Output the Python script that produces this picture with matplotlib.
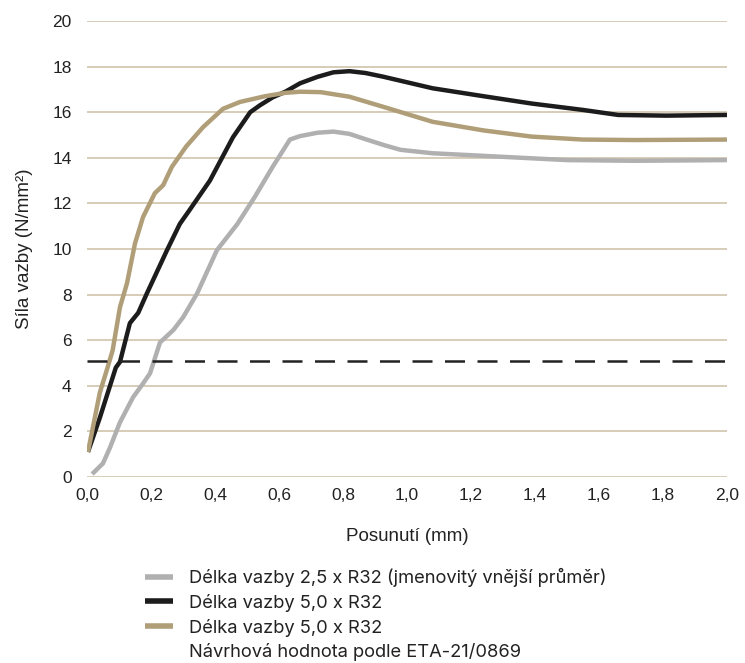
import matplotlib.pyplot as plt
from matplotlib.lines import Line2D
from matplotlib.ticker import FuncFormatter

# posunutí (mm) a síla vazby (N/mm2)
x_short = [0.016, 0.05, 0.072, 0.103, 0.144, 0.175, 0.197, 0.228, 0.27, 0.30, 0.344,
           0.406, 0.47, 0.525, 0.58, 0.634, 0.665, 0.72, 0.77, 0.82, 0.874, 0.93,
           0.98, 1.08, 1.29, 1.5, 1.71, 2.0]
y_short = [0.13, 0.6, 1.3, 2.4, 3.5, 4.1, 4.55, 5.9, 6.45, 7.0, 8.05,
           9.95, 11.1, 12.3, 13.6, 14.8, 14.95, 15.1, 15.15, 15.05, 14.8, 14.55,
           14.35, 14.2, 14.05, 13.9, 13.87, 13.9]

x_long = [0.003, 0.04, 0.09, 0.103, 0.134, 0.16, 0.187, 0.25, 0.29, 0.32, 0.384,
          0.456, 0.51, 0.54, 0.58, 0.62, 0.666, 0.72, 0.77, 0.82, 0.87, 0.925,
          1.08, 1.24, 1.39, 1.55, 1.66, 1.81, 2.0]
y_long = [1.1, 2.6, 4.8, 5.05, 6.75, 7.2, 8.05, 9.95, 11.1, 11.7, 13.0,
          14.9, 16.0, 16.3, 16.65, 16.9, 17.27, 17.55, 17.75, 17.8, 17.72, 17.56,
          17.05, 16.7, 16.38, 16.1, 15.88, 15.85, 15.88]

x_long2 = [0.003, 0.04, 0.062, 0.08, 0.103, 0.125, 0.15, 0.175, 0.212, 0.238, 0.265,
           0.31, 0.363, 0.425, 0.478, 0.556, 0.62, 0.666, 0.73, 0.82, 0.925, 1.08,
           1.24, 1.39, 1.55, 1.71, 2.0]
y_long2 = [1.1, 3.7, 4.7, 5.55, 7.45, 8.5, 10.25, 11.4, 12.45, 12.8, 13.6,
           14.5, 15.35, 16.15, 16.45, 16.7, 16.85, 16.9, 16.88, 16.68, 16.24, 15.58,
           15.2, 14.93, 14.8, 14.78, 14.8]

design_value = 5.1

labels = ['Délka vazby 2,5 x R32 (jmenovitý vnější průměr)',
          'Délka vazby 5,0 x R32',
          'Délka vazby 5,0 x R32',
          'Návrhová hodnota podle ETA-21/0869']

gray = '#b0b0b0'
black = '#1c1c1c'
tan = '#b09e78'
grid_col = '#cdbfa3'

plt.rcParams['font.family'] = ['Liberation Sans', 'DejaVu Sans']

fig = plt.figure(figsize=(7.45, 6.63), dpi=100)
ax = fig.add_axes([0.1168, 0.2805, 0.859, 0.6878])

for y in range(0, 21, 2):
    ax.axhline(y, color=grid_col, lw=1.1, zorder=0)

l1, = ax.plot(x_short, y_short, color=gray, lw=3.2, solid_capstyle='butt')
l2, = ax.plot(x_long, y_long, color=black, lw=3.2, solid_capstyle='butt')
l3, = ax.plot(x_long2, y_long2, color=tan, lw=3.2, solid_capstyle='butt')
ax.plot([0, 2], [design_value, design_value], color='#222222', lw=1.8, dashes=(8, 5))

ax.set_xlim(0, 2)
ax.set_ylim(0, 20)
ax.set_xticks([i / 5 for i in range(11)])
ax.set_yticks(range(0, 21, 2))
ax.xaxis.set_major_formatter(FuncFormatter(lambda v, p: f'{v:.1f}'.replace('.', ',')))
ax.tick_params(length=0, labelsize=12.5, colors='#222222', pad=8)
ax.tick_params(axis='y', pad=11)
for s in ax.spines.values():
    s.set_visible(False)

ax.set_xlabel('Posunutí (mm)', fontsize=13.5, color='#222222', labelpad=18)
ax.set_ylabel('Síla vazby (N/mm²)', fontsize=13.5, color='#222222', labelpad=14)

blank = Line2D([], [], color='none')
leg = fig.legend([l1, l2, l3, blank], labels, loc='upper left',
                 bbox_to_anchor=(0.195, 0.143), bbox_transform=fig.transFigure,
                 frameon=False, handlelength=1.5, handletextpad=0.9,
                 labelspacing=0.36, borderaxespad=0, borderpad=0,
                 prop={'family': ['Inter', 'DejaVu Sans'], 'size': 13.2})
for t in leg.get_texts():
    t.set_color('#222222')
for h in leg.legend_handles:
    h.set_linewidth(4)

fig.savefig('out.png', dpi=100)
